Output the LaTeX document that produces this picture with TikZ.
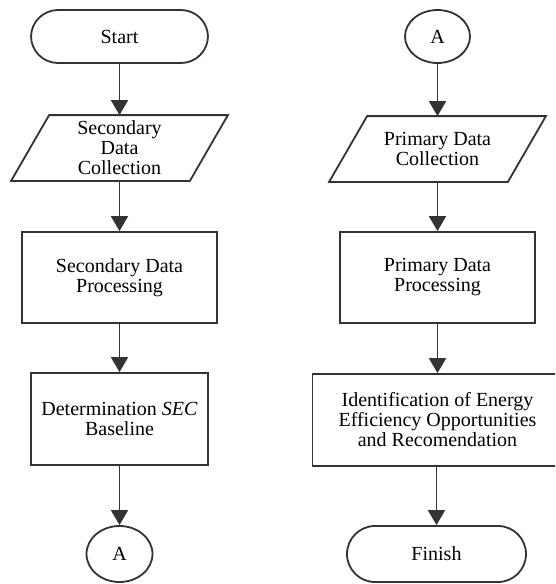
\documentclass[tikz,border=0pt]{standalone}
\usepackage{fontspec}
\setmainfont{Liberation Serif}
\usetikzlibrary{arrows.meta,shapes.geometric,calc}
\begin{document}
\begin{tikzpicture}[x=1pt,y=-1pt,
  base/.style={line width=1.8pt, draw=black!80, font=\fontsize{20}{20}\selectfont, align=center, inner sep=0pt},
  terminal/.style={base, rectangle, rounded corners=27pt},
  procbox/.style={base, rectangle},
  iobox/.style={base, rectangle, draw=none},
  connector/.style={base, ellipse},
  flow/.style={line width=1.8pt, draw=black!80, -{Triangle[width=17pt,length=15pt]}}]
\useasboundingbox (0,0) rectangle (555,584);
\clip (0,0) rectangle (555,584);
\fill[white] (0,0) rectangle (555,584);
% left column
\node[terminal, minimum width=177pt, minimum height=53pt] (start) at (119.5,36.5) {Start};
\node[iobox, minimum width=177pt, minimum height=64pt] (sdc) at (119.5,148) {Secondary\\Data\\Collection};
\draw[line width=1.8pt, draw=black!80] ($(sdc.north west)+(19,0)$) -- ($(sdc.north east)+(19,0)$) -- ($(sdc.south east)+(-19,0)$) -- ($(sdc.south west)+(-19,0)$) -- cycle;
\node[procbox, minimum width=195pt, minimum height=91pt] (sdp) at (119.5,277.5) {Secondary Data\\Processing};
\node[procbox, minimum width=177pt, minimum height=92pt] (det) at (119.5,419) {Determination \textit{SEC}\\Baseline};
\node[connector, minimum width=66pt, minimum height=56pt] (a1) at (119.5,554) {A};
% right column
\node[connector, minimum width=65pt, minimum height=53pt] (a2) at (437.5,36.5) {A};
\node[iobox, minimum width=177pt, minimum height=64pt] (pdc) at (437.5,149) {Primary Data\\Collection};
\draw[line width=1.8pt, draw=black!80] ($(pdc.north west)+(19,0)$) -- ($(pdc.north east)+(19,0)$) -- ($(pdc.south east)+(-19,0)$) -- ($(pdc.south west)+(-19,0)$) -- cycle;
\node[procbox, minimum width=195pt, minimum height=91pt] (pdp) at (437.5,277.5) {Primary Data\\Processing};
\node[procbox, minimum width=250pt, minimum height=92pt] (ide) at (437.5,420) {Identification of Energy\\Efficiency Opportunities\\and Recomendation};
\node[terminal, minimum width=179pt, minimum height=56pt, rounded corners=28pt] (fin) at (436.5,554) {Finish};
% connectors
\draw[flow] (start) -- (sdc.north);
\draw[flow] (sdc.south) -- (sdp);
\draw[flow] (sdp) -- (det);
\draw[flow] (det) -- (a1);
\draw[flow] (a2) -- (pdc.north);
\draw[flow] (pdc.south) -- (pdp);
\draw[flow] (pdp) -- (ide);
\draw[flow] (ide.south -| fin.north) -- (fin.north);
\end{tikzpicture}
\end{document}
